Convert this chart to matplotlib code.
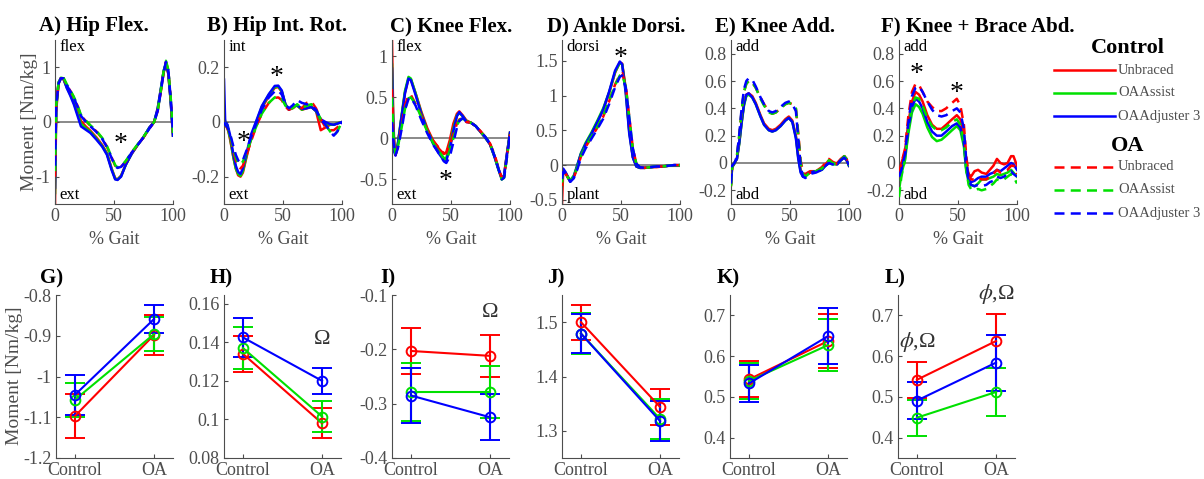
import matplotlib
matplotlib.use('Agg')
import matplotlib.pyplot as plt
from matplotlib.lines import Line2D

plt.rcParams['font.family'] = ['Liberation Serif', 'DejaVu Serif']
plt.rcParams['mathtext.fontset'] = 'stix'

# ---- top row: moment curves over the gait cycle ----
# cu/ca/cj = control unbraced / OAAssist / OAAdjuster 3, ou/oa/oj = OA group
a_x = [0, 1, 3, 5, 7, 10, 13, 16, 19, 22, 26, 30, 35, 40, 44, 48, 51, 53, 56, 60, 65, 70, 75, 80, 84, 87, 90, 92, 94, 96, 98, 100]
a_cu = [-1.5, 0.2, 0.7, 0.8, 0.8, 0.65, 0.52, 0.38, 0.2, 0.02, -0.08, -0.16, -0.28, -0.42, -0.57, -0.85, -1.03, -1.05, -0.98, -0.78, -0.58, -0.42, -0.28, -0.11, 0.0, 0.22, 0.62, 0.9, 1.05, 0.88, 0.4, -0.25]
a_ca = [-1.3, 0.25, 0.72, 0.81, 0.8, 0.63, 0.5, 0.35, 0.16, -0.03, -0.11, -0.18, -0.3, -0.44, -0.58, -0.86, -1.04, -1.05, -0.99, -0.78, -0.58, -0.42, -0.28, -0.1, 0.0, 0.24, 0.64, 0.92, 1.08, 0.9, 0.4, -0.25]
a_cj = [-1.2, 0.3, 0.72, 0.8, 0.8, 0.62, 0.48, 0.32, 0.12, -0.08, -0.14, -0.2, -0.32, -0.45, -0.6, -0.88, -1.05, -1.06, -1.0, -0.78, -0.58, -0.42, -0.28, -0.1, 0.0, 0.25, 0.65, 0.92, 1.08, 0.9, 0.4, -0.25]
a_ou = [-1.0, 0.3, 0.7, 0.8, 0.8, 0.68, 0.57, 0.45, 0.3, 0.12, 0.02, -0.07, -0.17, -0.3, -0.45, -0.65, -0.8, -0.84, -0.82, -0.72, -0.56, -0.42, -0.28, -0.12, 0.0, 0.2, 0.6, 0.9, 1.1, 0.95, 0.45, -0.2]
a_oa = [-0.9, 0.3, 0.72, 0.82, 0.82, 0.69, 0.58, 0.46, 0.31, 0.13, 0.03, -0.06, -0.16, -0.29, -0.44, -0.64, -0.79, -0.83, -0.81, -0.71, -0.55, -0.41, -0.27, -0.11, 0.0, 0.2, 0.62, 0.92, 1.12, 0.96, 0.46, -0.2]
a_oj = [-0.8, 0.3, 0.7, 0.8, 0.8, 0.67, 0.56, 0.44, 0.29, 0.11, 0.01, -0.08, -0.18, -0.31, -0.46, -0.66, -0.81, -0.84, -0.82, -0.72, -0.56, -0.42, -0.28, -0.12, 0.0, 0.2, 0.6, 0.9, 1.1, 0.95, 0.45, -0.2]

b_x = [0, 1, 3, 5, 8, 10, 12, 14, 16, 19, 23, 27, 32, 38, 43, 46, 49, 52, 55, 58, 62, 66, 70, 74, 78, 82, 86, 90, 93, 96, 100]
b_cu = [0.02, 0.0, -0.02, -0.06, -0.13, -0.17, -0.195, -0.2, -0.185, -0.13, -0.06, -0.01, 0.05, 0.095, 0.125, 0.128, 0.11, 0.065, 0.045, 0.055, 0.06, 0.045, 0.05, 0.055, 0.04, -0.03, -0.02, -0.01, -0.01, -0.005, 0.0]
b_ca = [0.03, 0.0, -0.02, -0.055, -0.13, -0.17, -0.19, -0.197, -0.18, -0.125, -0.055, -0.005, 0.055, 0.1, 0.128, 0.13, 0.112, 0.065, 0.045, 0.055, 0.06, 0.045, 0.052, 0.055, 0.04, 0.005, -0.005, -0.01, -0.01, -0.005, 0.0]
b_cj = [0.155, 0.0, -0.01, -0.045, -0.12, -0.16, -0.183, -0.19, -0.17, -0.115, -0.045, 0.0, 0.058, 0.102, 0.132, 0.133, 0.115, 0.065, 0.045, 0.055, 0.062, 0.048, 0.05, 0.055, 0.04, 0.01, 0.0, -0.008, -0.01, -0.006, 0.0]
b_ou = [0.0, -0.01, -0.025, -0.05, -0.11, -0.14, -0.16, -0.17, -0.16, -0.12, -0.07, -0.02, 0.03, 0.07, 0.088, 0.09, 0.08, 0.055, 0.045, 0.05, 0.06, 0.05, 0.07, 0.075, 0.05, 0.01, -0.02, -0.03, -0.03, -0.02, 0.0]
b_oa = [0.0, -0.01, -0.02, -0.045, -0.1, -0.13, -0.15, -0.155, -0.145, -0.11, -0.065, -0.02, 0.03, 0.07, 0.09, 0.095, 0.085, 0.06, 0.045, 0.05, 0.065, 0.05, 0.06, 0.065, 0.045, 0.01, -0.01, -0.035, -0.05, -0.035, 0.0]
b_oj = [0.0, -0.01, -0.02, -0.04, -0.09, -0.12, -0.14, -0.148, -0.14, -0.105, -0.055, -0.01, 0.045, 0.09, 0.112, 0.115, 0.1, 0.065, 0.05, 0.06, 0.08, 0.07, 0.065, 0.06, 0.045, 0.01, -0.01, -0.035, -0.05, -0.035, 0.0]

c_x = [0, 1, 2, 3, 5, 8, 11, 14, 16, 20, 25, 30, 35, 40, 44, 46, 49, 52, 55, 57, 60, 63, 67, 71, 75, 79, 83, 87, 90, 93, 95, 97, 100]
c_cu = [1.2, 0.3, -0.12, -0.2, -0.07, 0.25, 0.56, 0.73, 0.72, 0.55, 0.32, 0.12, -0.03, -0.13, -0.19, -0.17, -0.02, 0.18, 0.3, 0.33, 0.28, 0.22, 0.19, 0.15, 0.08, 0.01, -0.07, -0.22, -0.36, -0.49, -0.45, -0.23, 0.07]
c_ca = [0.9, 0.2, -0.12, -0.19, -0.06, 0.27, 0.58, 0.75, 0.73, 0.55, 0.3, 0.1, -0.06, -0.17, -0.24, -0.24, -0.08, 0.12, 0.28, 0.31, 0.27, 0.21, 0.19, 0.15, 0.08, 0.01, -0.07, -0.23, -0.37, -0.5, -0.46, -0.24, 0.07]
c_cj = [0.85, 0.15, -0.17, -0.21, -0.07, 0.25, 0.55, 0.73, 0.71, 0.53, 0.29, 0.09, -0.07, -0.19, -0.27, -0.27, -0.13, 0.09, 0.27, 0.32, 0.27, 0.2, 0.19, 0.15, 0.08, 0.01, -0.07, -0.23, -0.37, -0.49, -0.45, -0.23, 0.07]
c_ou = [0.6, 0.1, -0.1, -0.2, -0.1, 0.15, 0.4, 0.53, 0.53, 0.42, 0.27, 0.1, -0.03, -0.12, -0.18, -0.18, -0.08, 0.05, 0.18, 0.23, 0.25, 0.2, 0.19, 0.15, 0.09, 0.02, -0.06, -0.2, -0.35, -0.48, -0.47, -0.26, 0.05]
c_oa = [0.5, 0.1, -0.1, -0.19, -0.1, 0.12, 0.36, 0.49, 0.5, 0.42, 0.25, 0.08, -0.06, -0.16, -0.25, -0.27, -0.15, 0.0, 0.15, 0.22, 0.24, 0.21, 0.19, 0.15, 0.08, 0.02, -0.06, -0.22, -0.36, -0.5, -0.48, -0.27, 0.05]
c_oj = [0.2, 0.0, -0.12, -0.2, -0.12, 0.1, 0.35, 0.48, 0.5, 0.4, 0.22, 0.06, -0.08, -0.19, -0.28, -0.3, -0.22, -0.05, 0.13, 0.21, 0.25, 0.21, 0.19, 0.15, 0.08, 0.02, -0.06, -0.22, -0.36, -0.5, -0.48, -0.27, 0.05]

d_x = [0, 1, 3, 5, 7, 10, 13, 16, 20, 25, 30, 35, 40, 45, 49, 51, 54, 57, 60, 63, 66, 70, 75, 80, 85, 90, 95, 100]
d_cu = [-0.55, -0.1, -0.12, -0.18, -0.23, -0.17, -0.02, 0.15, 0.3, 0.45, 0.62, 0.8, 1.04, 1.33, 1.48, 1.46, 1.1, 0.5, 0.12, -0.02, -0.04, -0.04, -0.03, -0.03, -0.02, -0.01, -0.01, -0.01]
d_ca = [-0.3, -0.08, -0.11, -0.17, -0.22, -0.15, 0.0, 0.17, 0.32, 0.47, 0.64, 0.82, 1.05, 1.34, 1.47, 1.45, 1.08, 0.48, 0.12, -0.02, -0.04, -0.04, -0.03, -0.02, -0.02, -0.01, -0.01, -0.01]
d_cj = [-0.1, -0.05, -0.1, -0.17, -0.24, -0.17, 0.0, 0.16, 0.3, 0.45, 0.62, 0.8, 1.06, 1.36, 1.49, 1.45, 1.04, 0.45, 0.11, -0.02, -0.04, -0.04, -0.03, -0.02, -0.02, -0.01, 0.0, 0.0]
d_ou = [-0.3, -0.1, -0.12, -0.18, -0.23, -0.18, -0.04, 0.12, 0.26, 0.4, 0.54, 0.7, 0.92, 1.16, 1.3, 1.32, 1.15, 0.7, 0.25, 0.02, -0.03, -0.04, -0.03, -0.02, -0.02, -0.01, 0.0, 0.0]
d_oa = [-0.25, -0.1, -0.12, -0.18, -0.23, -0.17, -0.03, 0.13, 0.27, 0.41, 0.55, 0.71, 0.93, 1.15, 1.29, 1.3, 1.13, 0.68, 0.24, 0.02, -0.03, -0.04, -0.03, -0.02, -0.02, -0.01, 0.0, 0.0]
d_oj = [-0.2, -0.1, -0.12, -0.18, -0.24, -0.19, -0.06, 0.1, 0.24, 0.38, 0.52, 0.67, 0.88, 1.12, 1.27, 1.29, 1.12, 0.68, 0.24, 0.02, -0.03, -0.04, -0.03, -0.02, -0.02, -0.01, 0.0, 0.0]

e_x = [0, 1, 3, 5, 7, 9, 11, 13, 15, 18, 21, 25, 28, 32, 35, 38, 42, 46, 49, 52, 55, 57, 59, 61, 63, 67, 72, 77, 80, 83, 86, 90, 93, 96, 98, 100]
e_cu = [-0.15, -0.03, 0.0, 0.03, 0.15, 0.3, 0.43, 0.5, 0.51, 0.49, 0.44, 0.35, 0.29, 0.25, 0.24, 0.25, 0.28, 0.32, 0.34, 0.31, 0.2, 0.05, -0.05, -0.09, -0.08, -0.06, -0.06, -0.04, -0.01, 0.02, 0.0, 0.0, 0.03, 0.05, 0.02, -0.02]
e_ca = [-0.15, -0.03, 0.0, 0.03, 0.14, 0.29, 0.42, 0.49, 0.5, 0.48, 0.43, 0.34, 0.28, 0.24, 0.23, 0.24, 0.27, 0.31, 0.33, 0.3, 0.19, 0.04, -0.06, -0.1, -0.09, -0.07, -0.06, -0.05, -0.02, 0.0, -0.01, -0.01, 0.02, 0.04, 0.02, -0.02]
e_cj = [-0.12, -0.02, 0.0, 0.03, 0.15, 0.3, 0.43, 0.5, 0.51, 0.48, 0.43, 0.34, 0.28, 0.24, 0.23, 0.24, 0.27, 0.31, 0.33, 0.3, 0.18, 0.03, -0.07, -0.1, -0.09, -0.07, -0.06, -0.05, -0.02, 0.0, 0.0, -0.01, 0.02, 0.05, 0.02, -0.02]
e_ou = [-0.17, -0.03, 0.0, 0.05, 0.2, 0.38, 0.52, 0.58, 0.6, 0.59, 0.55, 0.48, 0.43, 0.38, 0.36, 0.37, 0.4, 0.43, 0.44, 0.43, 0.4, 0.22, 0.02, -0.07, -0.09, -0.07, -0.06, -0.03, 0.0, 0.03, 0.01, -0.01, 0.02, 0.05, 0.03, -0.02]
e_oa = [-0.17, -0.03, 0.0, 0.05, 0.2, 0.38, 0.52, 0.58, 0.6, 0.59, 0.55, 0.47, 0.42, 0.37, 0.36, 0.37, 0.4, 0.43, 0.44, 0.43, 0.4, 0.2, 0.0, -0.08, -0.1, -0.07, -0.06, -0.04, -0.01, 0.02, 0.0, -0.01, 0.02, 0.05, 0.03, -0.02]
e_oj = [-0.15, -0.02, 0.0, 0.05, 0.21, 0.4, 0.54, 0.6, 0.62, 0.61, 0.56, 0.48, 0.43, 0.38, 0.37, 0.38, 0.41, 0.44, 0.45, 0.43, 0.38, 0.18, -0.02, -0.1, -0.11, -0.08, -0.07, -0.05, -0.02, 0.0, -0.01, -0.01, 0.02, 0.04, 0.02, -0.02]

f_x = [0, 2, 5, 8, 11, 14, 17, 20, 24, 28, 32, 36, 40, 45, 49, 52, 55, 57, 59, 61, 64, 67, 70, 74, 77, 80, 83, 86, 89, 92, 95, 97, 100]
f_cu = [-0.1, 0.0, 0.08, 0.3, 0.45, 0.52, 0.5, 0.45, 0.35, 0.28, 0.25, 0.25, 0.28, 0.32, 0.35, 0.32, 0.2, 0.0, -0.08, -0.1, -0.06, -0.05, -0.07, -0.08, -0.05, -0.02, 0.03, 0.0, -0.01, 0.0, 0.05, 0.05, -0.02]
f_ca = [-0.2, -0.08, 0.02, 0.22, 0.37, 0.43, 0.41, 0.36, 0.26, 0.19, 0.16, 0.17, 0.2, 0.24, 0.27, 0.24, 0.12, -0.06, -0.14, -0.16, -0.17, -0.15, -0.12, -0.12, -0.11, -0.1, -0.08, -0.09, -0.08, -0.07, -0.05, -0.07, -0.1]
f_cj = [-0.12, -0.04, 0.05, 0.26, 0.41, 0.47, 0.45, 0.4, 0.3, 0.23, 0.2, 0.2, 0.23, 0.27, 0.29, 0.26, 0.15, -0.04, -0.12, -0.14, -0.13, -0.11, -0.1, -0.1, -0.08, -0.07, -0.05, -0.06, -0.04, -0.02, 0.0, -0.01, -0.05]
f_ou = [-0.08, 0.0, 0.1, 0.35, 0.52, 0.58, 0.57, 0.52, 0.45, 0.41, 0.38, 0.38, 0.4, 0.44, 0.47, 0.42, 0.28, 0.05, -0.08, -0.12, -0.12, -0.11, -0.12, -0.12, -0.1, -0.08, -0.05, -0.07, -0.06, -0.05, -0.02, -0.02, -0.08]
f_oa = [-0.25, -0.1, 0.02, 0.25, 0.42, 0.48, 0.47, 0.42, 0.33, 0.27, 0.24, 0.24, 0.26, 0.3, 0.32, 0.28, 0.15, -0.05, -0.16, -0.19, -0.2, -0.19, -0.2, -0.19, -0.17, -0.15, -0.12, -0.13, -0.12, -0.1, -0.08, -0.1, -0.15]
f_oj = [-0.1, -0.05, 0.06, 0.3, 0.49, 0.55, 0.56, 0.52, 0.45, 0.39, 0.35, 0.34, 0.35, 0.38, 0.4, 0.37, 0.25, 0.02, -0.12, -0.16, -0.17, -0.16, -0.17, -0.16, -0.14, -0.13, -0.1, -0.11, -0.1, -0.08, -0.06, -0.08, -0.1]

# ---- bottom row: peak means +- error, rows = Unbraced, OAAssist, OAAdjuster 3; cols = Control, OA ----
groups = ['Control', 'OA']
g_mean = [[-1.097, -0.898], [-1.057, -0.896], [-1.045, -0.859]]
g_err = [[0.055, 0.049], [0.042, 0.041], [0.049, 0.034]]
h_mean = [[0.134, 0.098], [0.137, 0.1015], [0.1425, 0.120]]
h_err = [[0.0095, 0.0077], [0.011, 0.0078], [0.0102, 0.0069]]
i_mean = [[-0.203, -0.212], [-0.279, -0.279], [-0.285, -0.325]]
i_err = [[0.043, 0.038], [0.053, 0.048], [0.051, 0.042]]
j_mean = [[1.500, 1.344], [1.479, 1.322], [1.479, 1.318]]
j_err = [[0.032, 0.033], [0.037, 0.037], [0.036, 0.037]]
k_mean = [[0.543, 0.637], [0.539, 0.627], [0.533, 0.649]]
k_err = [[0.044, 0.066], [0.044, 0.063], [0.046, 0.068]]
l_mean = [[0.542, 0.637], [0.449, 0.512], [0.491, 0.584]]
l_err = [[0.044, 0.066], [0.044, 0.060], [0.046, 0.069]]

conditions = ['Unbraced', 'OAAssist', 'OAAdjuster 3']
colors = ['#ff0000', '#00e000', '#0000ff']
AXC = '#4d4d4d'
W, H = 1204, 479


def fx(px):
    return px / W


def fy(py):
    return 1 - py / H


def style(ax):
    for s in ['top', 'right']:
        ax.spines[s].set_visible(False)
    for s in ['left', 'bottom']:
        ax.spines[s].set_color(AXC)
        ax.spines[s].set_linewidth(0.8)
    ax.tick_params(direction='in', length=3, width=0.8, colors=AXC, labelsize=13, pad=3)
    ax.yaxis.set_major_formatter(plt.FuncFormatter(lambda v, p: f'{v:g}'))


fig = plt.figure(figsize=(W / 100, H / 100), dpi=100)

top = [
    ('A) Hip Flex.', 94, 55, a_x, [a_cu, a_ca, a_cj], [a_ou, a_oa, a_oj], (-1.5, 1.5), [-1, 0, 1], ('flex', 'ext'), [(55.7, -0.28)]),
    ('B) Hip Int. Rot.', 277, 224, b_x, [b_cu, b_ca, b_cj], [b_ou, b_oa, b_oj], (-0.3, 0.3), [-0.2, 0, 0.2], ('int', 'ext'), [(44.4, 0.189), (16.5, -0.051)]),
    ('C) Knee Flex.', 451, 392, c_x, [c_cu, c_ca, c_cj], [c_ou, c_oa, c_oj], (-0.8, 1.2), [-0.5, 0, 0.5, 1], ('flex', 'ext'), [(45, -0.44)]),
    ('D) Ankle Dorsi.', 616, 562, d_x, [d_cu, d_ca, d_cj], [d_ou, d_oa, d_oj], (-0.56, 1.8), [-0.5, 0, 0.5, 1, 1.5], ('dorsi', 'plant'), [(49.9, 1.64)]),
    ('E) Knee Add.', 775, 731, e_x, [e_cu, e_ca, e_cj], [e_ou, e_oa, e_oj], (-0.3, 0.9), [-0.2, 0, 0.2, 0.4, 0.6, 0.8], ('add', 'abd'), []),
    ('F) Knee + Brace Abd.', 978, 899, f_x, [f_cu, f_ca, f_cj], [f_ou, f_oa, f_oj], (-0.3, 0.9), [-0.2, 0, 0.2, 0.4, 0.6, 0.8], ('add', 'abd'), [(15, 0.70), (49, 0.56)]),
]

for title, tx, left, x, ctrl, oa, ylim, yt, tags, stars in top:
    ax = fig.add_axes([fx(left), fy(204), 118 / W, 164 / H])
    style(ax)
    ax.axhline(0, color='#808080', lw=1.3, zorder=1)
    for y, c in zip(ctrl, colors):
        ax.plot(x, y, color=c, lw=1.8, zorder=2)
    for y, c in zip(oa, colors):
        ax.plot(x, y, color=c, lw=1.8, ls=(0, (4, 2.5)), zorder=3)
    ax.set_xlim(0, 100)
    ax.set_ylim(*ylim)
    ax.set_xticks([0, 50, 100])
    ax.set_yticks(yt)
    ax.text(0.04, 0.955, tags[0], transform=ax.transAxes, va='center', fontsize=12)
    ax.text(0.04, 0.055, tags[1], transform=ax.transAxes, va='center', fontsize=12)
    for sx, sy in stars:
        # the asterisk glyph sits high in its box, nudge it down
        ax.annotate('*', (sx, sy), xytext=(0, -5), textcoords='offset points',
                    ha='center', va='center', fontsize=20)
    fig.text(fx(tx), fy(31), title, ha='center', va='baseline', fontsize=15, fontweight='bold')
    fig.text(fx(left + 59), fy(240), '% Gait', ha='center', va='center', fontsize=13, color=AXC)

fig.text(fx(29), fy(122), 'Moment [Nm/kg]', rotation=90, ha='center', va='center', fontsize=14, color=AXC)

bottom = [
    ('G)', 40, 56, g_mean, g_err, (-1.2, -0.8), [-1.2, -1.1, -1.0, -0.9, -0.8], []),
    ('H)', 210, 224, h_mean, h_err, (0.08, 0.1645), [0.08, 0.1, 0.12, 0.14, 0.16], [(2.0, 0.1414, 'Ω')]),
    ('I)', 380, 392, i_mean, i_err, (-0.4, -0.1), [-0.4, -0.3, -0.2, -0.1], [(2.0, -0.133, 'Ω')]),
    ('J)', 547, 562, j_mean, j_err, (1.25, 1.55), [1.3, 1.4, 1.5], []),
    ('K)', 717, 730, k_mean, k_err, (0.35, 0.75), [0.4, 0.5, 0.6, 0.7], []),
    ('L)', 885, 898, l_mean, l_err, (0.35, 0.75), [0.4, 0.5, 0.6, 0.7], [(1.0, 0.635, r'$\phi$,Ω'), (2.0, 0.753, r'$\phi$,Ω')]),
]

for label, lx, left, means, errs, ylim, yt, notes in bottom:
    ax = fig.add_axes([fx(left), fy(458), 117 / W, 163 / H])
    style(ax)
    for m, e, c in zip(means, errs, colors):
        ax.errorbar([1, 2], m, yerr=e, color=c, marker='o', mfc='none', ms=7, mew=1.4,
                    lw=1.5, capsize=7, capthick=1.5, elinewidth=1.5)
    ax.set_xlim(0.76, 2.24)
    ax.set_ylim(*ylim)
    ax.set_xticks([1, 2])
    ax.set_xticklabels(groups)
    ax.set_yticks(yt)
    for nx, ny, s in notes:
        ax.text(nx, ny, s, ha='center', va='center', fontsize=16, color='#333333', clip_on=False)
    fig.text(fx(lx), fy(283), label, ha='left', va='baseline', fontsize=15, fontweight='bold')

fig.text(fx(15), fy(376), 'Moment [Nm/kg]', rotation=90, ha='center', va='center', fontsize=14, color=AXC)

# legend drawn in figure space
fig.text(fx(1128), fy(48), 'Control', ha='center', va='center', fontsize=16, fontweight='bold')
fig.text(fx(1128), fy(146), 'OA', ha='center', va='center', fontsize=16, fontweight='bold')
for k, (name, c) in enumerate(zip(conditions, colors)):
    for y0, ls in [(70, '-'), (167, (0, (4, 2.5)))]:
        yy = y0 + k * 23
        fig.add_artist(Line2D([fx(1054), fx(1115)], [fy(yy), fy(yy)], color=c, lw=1.8, ls=ls,
                              transform=fig.transFigure))
        fig.text(fx(1118), fy(yy), name, ha='left', va='center', fontsize=10.5, color=AXC)

fig.savefig('out.png', dpi=100)
